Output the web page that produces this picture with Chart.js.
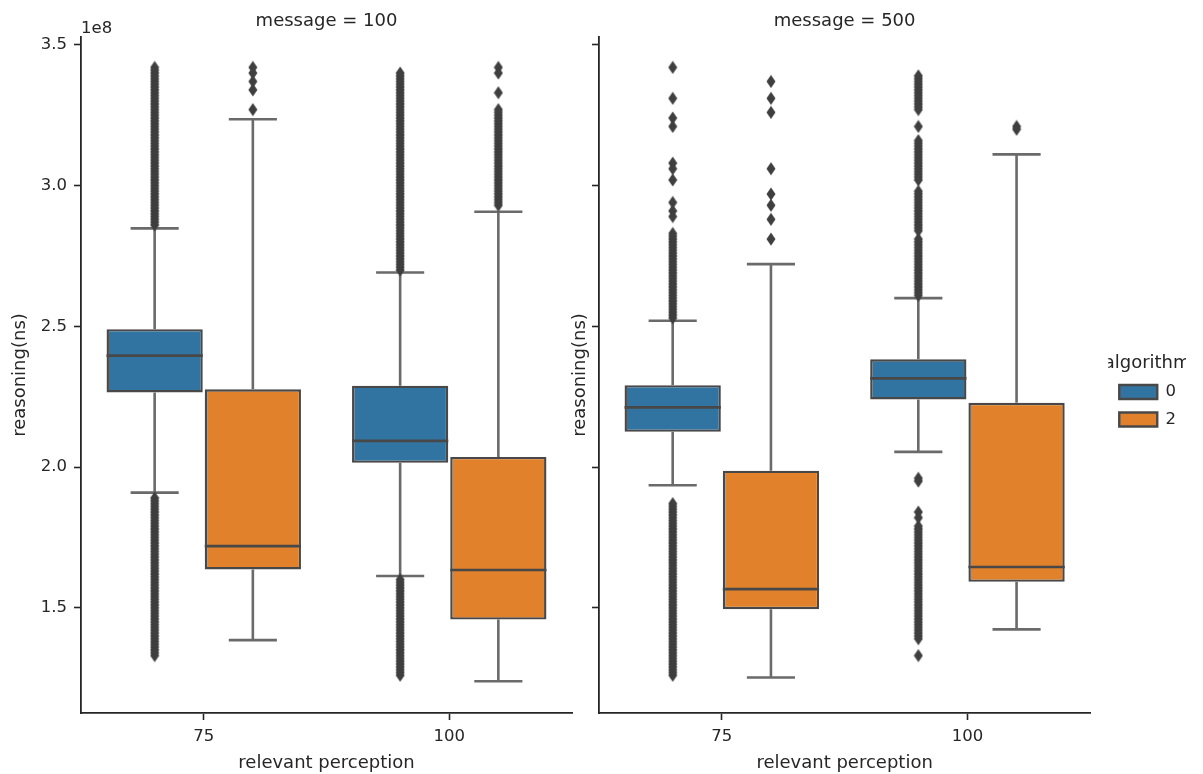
<!DOCTYPE html>
<html>
<head>
<meta charset="utf-8">
<script src="https://cdn.jsdelivr.net/npm/chart.js@4.4.1/dist/chart.umd.min.js"></script>
<style>
  html, body { margin: 0; padding: 0; background: #fff; }
  #wrap { position: relative; width: 1203px; height: 774px; overflow: hidden; background: #fff; }
  canvas { position: absolute; top: 0; }
  #panelA { left: 0; }
  #panelB { left: 560px; }
</style>
</head>
<body>
<div id="wrap">
  <canvas id="panelA" width="600" height="774"></canvas>
  <canvas id="panelB" width="643" height="774"></canvas>
</div>
<script>
// ---- data -------------------------------------------------------------
const categories = ['75', '100'];          // relevant perception
const messages = ['100', '500'];           // one panel per message size
const algorithms = ['0', '2'];
const yTicks = [1.5, 2.0, 2.5, 3.0, 3.5];  // reasoning, units of 1e8 ns

// Box summaries per category: [lower whisker, Q1, median, Q3, upper whisker] (x1e8 ns)
const msg100Alg0 = [[1.909, 2.265, 2.396, 2.490, 2.848], [1.613, 2.015, 2.093, 2.289, 2.691]];
const msg100Alg2 = [[1.385, 1.636, 1.719, 2.276, 3.236], [1.239, 1.458, 1.634, 2.036, 2.907]];
const msg500Alg0 = [[1.935, 2.125, 2.212, 2.291, 2.520], [2.054, 2.240, 2.315, 2.383, 2.600]];
const msg500Alg2 = [[1.252, 1.495, 1.566, 1.987, 2.721], [1.423, 1.592, 1.645, 2.228, 3.111]];

// Outliers beyond the whiskers, per category (x1e8 ns)
const msg100Alg0Fliers = [
  [2.86, 2.87, 2.88, 2.89, 2.90, 2.91, 2.92, 2.93, 2.94, 2.95, 2.96, 2.97, 2.98, 2.99, 3.00,
   3.01, 3.02, 3.03, 3.04, 3.05, 3.06, 3.07, 3.08, 3.09, 3.10, 3.11, 3.12, 3.13, 3.14, 3.15,
   3.16, 3.17, 3.18, 3.19, 3.20, 3.21, 3.22, 3.23, 3.24, 3.25, 3.26, 3.27, 3.28, 3.29, 3.30,
   3.31, 3.32, 3.33, 3.34, 3.35, 3.36, 3.37, 3.38, 3.39, 3.40, 3.41, 3.42,
   1.33, 1.34, 1.35, 1.36, 1.37, 1.38, 1.39, 1.40, 1.41, 1.42, 1.43, 1.44, 1.45, 1.46, 1.47,
   1.48, 1.49, 1.50, 1.51, 1.52, 1.53, 1.54, 1.55, 1.56, 1.57, 1.58, 1.59, 1.60, 1.61, 1.62,
   1.63, 1.64, 1.65, 1.66, 1.67, 1.68, 1.69, 1.70, 1.71, 1.72, 1.73, 1.74, 1.75, 1.76, 1.77,
   1.78, 1.79, 1.80, 1.81, 1.82, 1.83, 1.84, 1.85, 1.86, 1.87, 1.88, 1.89],
  [2.70, 2.71, 2.72, 2.73, 2.74, 2.75, 2.76, 2.77, 2.78, 2.79, 2.80, 2.81, 2.82, 2.83, 2.84,
   2.85, 2.86, 2.87, 2.88, 2.89, 2.90, 2.91, 2.92, 2.93, 2.94, 2.95, 2.96, 2.97, 2.98, 2.99,
   3.00, 3.01, 3.02, 3.03, 3.04, 3.05, 3.06, 3.07, 3.08, 3.09, 3.10, 3.11, 3.12, 3.13, 3.14,
   3.15, 3.16, 3.17, 3.18, 3.19, 3.20, 3.21, 3.22, 3.23, 3.24, 3.25, 3.26, 3.27, 3.28, 3.29,
   3.30, 3.31, 3.32, 3.33, 3.34, 3.35, 3.36, 3.37, 3.38, 3.39, 3.40,
   1.26, 1.27, 1.28, 1.29, 1.30, 1.31, 1.32, 1.33, 1.34, 1.35, 1.36, 1.37, 1.38, 1.39, 1.40,
   1.41, 1.42, 1.43, 1.44, 1.45, 1.46, 1.47, 1.48, 1.49, 1.50, 1.51, 1.52, 1.53, 1.54, 1.55,
   1.56, 1.57, 1.58, 1.59, 1.60]
];
const msg100Alg2Fliers = [
  [3.27, 3.34, 3.37, 3.40, 3.42],
  [3.42, 3.40, 3.33,
   2.93, 2.94, 2.95, 2.96, 2.97, 2.98, 2.99, 3.00, 3.01, 3.02, 3.03, 3.04, 3.05, 3.06, 3.07,
   3.08, 3.09, 3.10, 3.11, 3.12, 3.13, 3.14, 3.15, 3.16, 3.17, 3.18, 3.19, 3.20, 3.21, 3.22,
   3.23, 3.24, 3.25, 3.26, 3.27]
];
const msg500Alg0Fliers = [
  [3.42, 3.31, 3.24, 3.21, 3.08, 3.06, 3.02, 2.94, 2.91, 2.89,
   2.53, 2.54, 2.55, 2.56, 2.57, 2.58, 2.59, 2.60, 2.61, 2.62, 2.63, 2.64, 2.65, 2.66, 2.67,
   2.68, 2.69, 2.70, 2.71, 2.72, 2.73, 2.74, 2.75, 2.76, 2.77, 2.78, 2.79, 2.80, 2.81, 2.82,
   2.83,
   1.26, 1.27, 1.28, 1.29, 1.30, 1.31, 1.32, 1.33, 1.34, 1.35, 1.36, 1.37, 1.38, 1.39, 1.40,
   1.41, 1.42, 1.43, 1.44, 1.45, 1.46, 1.47, 1.48, 1.49, 1.50, 1.51, 1.52, 1.53, 1.54, 1.55,
   1.56, 1.57, 1.58, 1.59, 1.60, 1.61, 1.62, 1.63, 1.64, 1.65, 1.66, 1.67, 1.68, 1.69, 1.70,
   1.71, 1.72, 1.73, 1.74, 1.75, 1.76, 1.77, 1.78, 1.79, 1.80, 1.81, 1.82, 1.83, 1.84, 1.85,
   1.86, 1.87],
  [3.39, 3.38, 3.37, 3.36, 3.35, 3.34, 3.33, 3.32, 3.31, 3.30, 3.29, 3.28, 3.27, 3.21,
   3.16, 3.15, 3.14, 3.13, 3.12, 3.11, 3.10, 3.09, 3.08, 3.07, 3.06, 3.05, 3.04, 3.03, 3.02,
   2.98, 2.97, 2.96, 2.95, 2.94, 2.93, 2.92, 2.91, 2.90, 2.89, 2.88, 2.87, 2.86, 2.85, 2.84,
   2.81, 2.80, 2.79, 2.78, 2.77, 2.76, 2.75, 2.74, 2.73, 2.72, 2.71, 2.70, 2.69, 2.68, 2.67,
   2.66, 2.65, 2.64, 2.63, 2.62, 2.61,
   1.96, 1.95, 1.84, 1.82,
   1.39, 1.40, 1.41, 1.42, 1.43, 1.44, 1.45, 1.46, 1.47, 1.48, 1.49, 1.50, 1.51, 1.52, 1.53,
   1.54, 1.55, 1.56, 1.57, 1.58, 1.59, 1.60, 1.61, 1.62, 1.63, 1.64, 1.65, 1.66, 1.67, 1.68,
   1.69, 1.70, 1.71, 1.72, 1.73, 1.74, 1.75, 1.76, 1.77, 1.78, 1.79, 1.33]
];
const msg500Alg2Fliers = [
  [3.37, 3.31, 3.26, 3.06, 2.97, 2.93, 2.88, 2.81],
  [3.21, 3.20]
];

// ---- styling ----------------------------------------------------------
const FONT = 'DejaVu Sans';
const TEXT = '#262626';
const PALETTE = ['#3274a1', '#e1812c'];
const EDGE = '#484848';
const WHISKER = '#6a6a6a';
const FLIER = '#3f3f3f';
const HUE_OFFSET = [-0.2, 0.2];   // dodge of each algorithm inside a category
const BOX_HALF = 0.196;           // half box width, category units
const CAP_HALF = 0.098;           // half whisker-cap width
const Y_MIN = 1.126, Y_MAX = 3.528;

Chart.defaults.font.family = FONT;
Chart.defaults.color = TEXT;

// thin diamond used for the outlier markers
function diamondMarker() {
  const c = document.createElement('canvas');
  c.width = 10; c.height = 14;
  const g = c.getContext('2d');
  g.fillStyle = FLIER;
  g.beginPath();
  g.moveTo(5, 0.5); g.lineTo(9.5, 7); g.lineTo(5, 13.5); g.lineTo(0.5, 7);
  g.closePath();
  g.fill();
  return c;
}
const MARKER = diamondMarker();

function panelDatasets(boxes, fliers) {
  const ds = [];
  algorithms.forEach((alg, a) => {
    ds.push({
      type: 'bar', label: alg, xAxisID: 'xl', yAxisID: 'y',
      data: boxes[a].map((b, i) => ({ x: i + HUE_OFFSET[a], y: [b[1], b[3]] })),
      backgroundColor: PALETTE[a], borderColor: EDGE, borderWidth: 2.4,
      borderSkipped: false, grouped: false,
      categoryPercentage: 1, barPercentage: 0.98, order: 3
    });
  });
  const whiskers = [], medians = [], points = [];
  algorithms.forEach((alg, a) => {
    boxes[a].forEach((b, i) => {
      const xc = i + HUE_OFFSET[a];
      whiskers.push(
        {x: xc, y: b[3]}, {x: xc, y: b[4]}, {x: xc, y: null},
        {x: xc, y: b[1]}, {x: xc, y: b[0]}, {x: xc, y: null},
        {x: xc - CAP_HALF, y: b[4]}, {x: xc + CAP_HALF, y: b[4]}, {x: xc, y: null},
        {x: xc - CAP_HALF, y: b[0]}, {x: xc + CAP_HALF, y: b[0]}, {x: xc, y: null}
      );
      medians.push({x: xc - BOX_HALF, y: b[2]}, {x: xc + BOX_HALF, y: b[2]}, {x: xc, y: null});
      fliers[a][i].forEach(v => points.push({x: xc, y: v}));
    });
  });
  ds.push({
    type: 'line', label: 'whiskers', xAxisID: 'xl', yAxisID: 'y', data: whiskers,
    borderColor: WHISKER, borderWidth: 2.6, pointRadius: 0, spanGaps: false,
    fill: false, tension: 0, order: 2
  });
  ds.push({
    type: 'line', label: 'medians', xAxisID: 'xl', yAxisID: 'y', data: medians,
    borderColor: EDGE, borderWidth: 2.6, pointRadius: 0, spanGaps: false,
    fill: false, tension: 0, order: 1
  });
  ds.push({
    type: 'scatter', label: 'outliers', xAxisID: 'xl', yAxisID: 'y', data: points,
    pointStyle: MARKER, pointRadius: 5, pointHoverRadius: 5, order: 0
  });
  return ds;
}

function panelOptions(title, yWidth, showTickLabels, withLegend, padRight) {
  const scales = {
    x: {
      type: 'category', offset: true,
      grid: { display: true, drawOnChartArea: false, drawTicks: true, tickLength: 7,
              tickWidth: 1.6, tickColor: TEXT, offset: false },
      border: { display: true, color: TEXT, width: 1.8 },
      ticks: { color: TEXT, font: { size: 16.5 }, padding: 7, maxRotation: 0 },
      title: { display: true, text: 'relevant perception', color: TEXT,
               font: { size: 18 }, padding: { top: 0, bottom: 0 } },
      afterFit: s => { s.height = 61; }
    },
    // numeric twin of the category axis: category i sits at value i
    xl: {
      type: 'linear', min: -0.5, max: 1.5, offset: false, display: false,
      afterBuildTicks: s => { s.ticks = [{ value: -0.5 }, { value: 1.5 }]; }
    },
    y: {
      type: 'linear', position: 'left', min: Y_MIN, max: Y_MAX,
      afterBuildTicks: s => { s.ticks = yTicks.map(v => ({ value: v })); },
      grid: { display: true, drawOnChartArea: false, drawTicks: true, tickLength: 7,
              tickWidth: 1.6, tickColor: TEXT },
      border: { display: true, color: TEXT, width: 1.8 },
      ticks: { color: TEXT, font: { size: 16.5 }, padding: 7,
               callback: v => showTickLabels ? Number(v).toFixed(1) : '' },
      title: { display: true, text: 'reasoning(ns)', color: TEXT,
               font: { size: 18 }, padding: { top: 10, bottom: 0 } },
      afterFit: s => { s.width = yWidth; }
    }
  };
  if (withLegend) {
    scales.gap = {
      type: 'linear', position: 'right', display: true,
      grid: { display: false }, border: { display: false }, ticks: { display: false },
      afterFit: s => { s.width = 18; }
    };
  }
  return {
    responsive: false, animation: false, events: [],
    layout: { padding: { left: 0, right: padRight, top: 0, bottom: 0 } },
    scales,
    plugins: {
      tooltip: { enabled: false },
      title: {
        display: true, text: title, color: TEXT, fullSize: false,
        font: { size: 18, weight: 'normal' }, padding: { top: 11, bottom: 4.4 }
      },
      legend: {
        display: withLegend, position: 'right', align: 'center', fullSize: false,
        title: { display: true, text: 'algorithm', color: TEXT,
                 font: { size: 18 }, padding: { top: 43, bottom: -3 } },
        labels: {
          color: TEXT, font: { size: 16.5 }, boxWidth: 38, boxHeight: 14, padding: 11,
          filter: item => item.datasetIndex < 2
        }
      }
    }
  };
}

// the "1e8" multiplier above the shared y axis
const offsetLabel = {
  id: 'offsetLabel',
  afterDraw(chart) {
    const {ctx, chartArea} = chart;
    ctx.save();
    ctx.font = '16.5px "' + FONT + '"';
    ctx.fillStyle = TEXT;
    ctx.textAlign = 'left';
    ctx.textBaseline = 'alphabetic';
    ctx.fillText('1e8', chartArea.left, chartArea.top - 4);
    ctx.restore();
  }
};

new Chart(document.getElementById('panelA'), {
  type: 'bar',
  data: { labels: categories, datasets: panelDatasets([msg100Alg0, msg100Alg2], [msg100Alg0Fliers, msg100Alg2Fliers]) },
  options: panelOptions('message = ' + messages[0], 81, true, false, 28),
  plugins: [offsetLabel]
});

new Chart(document.getElementById('panelB'), {
  type: 'bar',
  data: { labels: categories, datasets: panelDatasets([msg500Alg0, msg500Alg2], [msg500Alg0Fliers, msg500Alg2Fliers]) },
  options: panelOptions('message = ' + messages[1], 39, false, true, 17)
});
</script>
</body>
</html>
